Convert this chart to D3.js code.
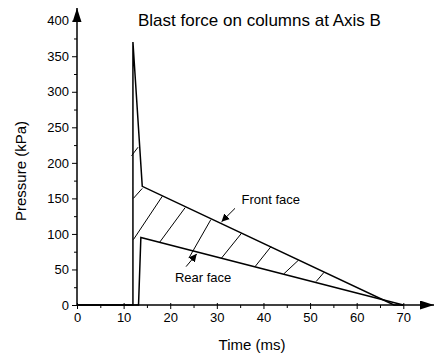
<!DOCTYPE html>
<html lang="en">
	<head>
		<meta charset="UTF-8">
		<title>Blast force</title>
		<script type="text/javascript" src="https://cdn.jsdelivr.net/npm/d3@7"></script>
		<style type="text/css">
		body { margin:0; background:#fff; }
		text { font-family: "Liberation Sans", Arial, sans-serif; fill:#000; }
		.axis path { stroke:#000; stroke-width:1.3px; }
		.axis line { stroke:#000; stroke-width:1px; }
		.axis text { font-size:13px; font-family: "Liberation Sans", Arial, sans-serif; }
		.face { fill:none; stroke:#000; stroke-width:1.5px; stroke-linejoin:miter; }
		.hatch { stroke:#000; stroke-width:1px; }
		</style>
	</head>
	<body>
	<div id="chart"></div>
	<script type="text/javascript">
		// data (time ms, pressure kPa)
		var frontTime = [0, 12, 12, 14, 68, 70];
		var frontPressure = [0, 0, 370, 167, 0, 0];
		var rearTime = [0, 13.2, 13.7, 70];
		var rearPressure = [0, 0, 95, 0];

		// hatch segments between the two faces: [x1, y1, x2, y2]
		var hatches = [
			[11.7, 210, 13.1, 222],
			[12.1, 150, 14.0, 164],
			[12.1, 92, 18.3, 153],
			[17.7, 88, 23.2, 137],
			[24.0, 66, 28.7, 120],
			[31.0, 66, 35.3, 101],
			[38.2, 54, 41.6, 82],
			[44.4, 44, 47.5, 63],
			[51.3, 33, 53.0, 46]
		];

		var xTicks = [0, 10, 20, 30, 40, 50, 60, 70];
		var xMinor = [5, 15, 25, 35, 45, 55, 65];
		var yTicks = [0, 50, 100, 150, 200, 250, 300, 350, 400];
		var yMinor = [25, 75, 125, 175, 225, 275, 325, 375];

		// labels: [text, x, y] in data units; arrows: [x1, y1, x2, y2]
		var notes = [["Front face", 35.3, 142], ["Rear face", 21.0, 32]];
		var arrows = [[33.9, 136, 31.0, 117], [23.4, 54, 25.7, 72]];

		var width = 435, height = 360;
		var padL = 77, padR = 403.3, padB = 305, padT = 20.7;

		var x = d3.scaleLinear().domain([0, 70]).range([padL, padR]);
		var y = d3.scaleLinear().domain([0, 400]).range([padB, padT]);

		var svg = d3.select("#chart").append("svg")
			.attr("width", width).attr("height", height);

		var defs = svg.append("defs");
		defs.append("marker")
			.attr("id", "head")
			.attr("viewBox", "0 0 10 10")
			.attr("refX", 10).attr("refY", 5)
			.attr("markerWidth", 8).attr("markerHeight", 8)
			.attr("markerUnits", "userSpaceOnUse")
			.attr("orient", "auto")
			.append("path").attr("d", "M0,0L10,5L0,10z").attr("fill", "#000");
		defs.append("marker")
			.attr("id", "big")
			.attr("viewBox", "0 0 10 10")
			.attr("refX", 10).attr("refY", 5)
			.attr("markerWidth", 14).attr("markerHeight", 9)
			.attr("markerUnits", "userSpaceOnUse")
			.attr("orient", "auto")
			.attr("preserveAspectRatio", "none")
			.append("path").attr("d", "M0,0L10,5L0,10z").attr("fill", "#000");

		// minor ticks
		svg.append("g")
			.attr("class", "axis")
			.attr("transform", "translate(0," + padB + ")")
			.call(d3.axisBottom(x).tickValues(xMinor).tickSize(3).tickFormat(""))
			.select(".domain").remove();
		svg.append("g")
			.attr("class", "axis")
			.attr("transform", "translate(" + padL + ",0)")
			.call(d3.axisLeft(y).tickValues(yMinor).tickSize(3).tickFormat(""))
			.select(".domain").remove();

		// major ticks
		var gx = svg.append("g")
			.attr("class", "axis")
			.attr("transform", "translate(0," + padB + ")")
			.call(d3.axisBottom(x).tickValues(xTicks).tickSize(4).tickPadding(4));
		gx.select(".domain").remove();
		gx.selectAll(".tick line").attr("y1", -2);

		var gy = svg.append("g")
			.attr("class", "axis")
			.attr("transform", "translate(" + padL + ",0)")
			.call(d3.axisLeft(y).tickValues(yTicks).tickSize(5).tickPadding(3));
		gy.select(".domain").remove();

		// axis lines with arrows
		svg.append("line")
			.attr("x1", padL).attr("y1", padB).attr("x2", 434).attr("y2", padB)
			.attr("stroke", "#000").attr("stroke-width", 1.5)
			.attr("marker-end", "url(#big)");
		svg.append("line")
			.attr("x1", padL).attr("y1", padB).attr("x2", padL).attr("y2", 8)
			.attr("stroke", "#000").attr("stroke-width", 1.5)
			.attr("marker-end", "url(#big)");

		// faces
		var line = d3.line()
			.x(function(d){ return x(d[0]); })
			.y(function(d){ return y(d[1]); });

		svg.append("path")
			.attr("class", "face")
			.attr("d", line(d3.zip(frontTime, frontPressure)));
		svg.append("path")
			.attr("class", "face")
			.attr("d", line(d3.zip(rearTime, rearPressure)));

		svg.selectAll(".hatch")
			.data(hatches)
			.enter().append("line")
			.attr("class", "hatch")
			.attr("x1", function(d){ return x(d[0]); })
			.attr("y1", function(d){ return y(d[1]); })
			.attr("x2", function(d){ return x(d[2]); })
			.attr("y2", function(d){ return y(d[3]); });

		// annotations
		svg.selectAll(".arrow")
			.data(arrows)
			.enter().append("line")
			.attr("class", "arrow")
			.attr("x1", function(d){ return x(d[0]); })
			.attr("y1", function(d){ return y(d[1]); })
			.attr("x2", function(d){ return x(d[2]); })
			.attr("y2", function(d){ return y(d[3]); })
			.attr("stroke", "#000").attr("stroke-width", 1)
			.attr("marker-end", "url(#head)");

		svg.selectAll(".note")
			.data(notes)
			.enter().append("text")
			.attr("class", "note")
			.attr("x", function(d){ return x(d[1]); })
			.attr("y", function(d){ return y(d[2]); })
			.attr("font-size", "13px")
			.text(function(d){ return d[0]; });

		// titles
		svg.append("text")
			.attr("x", 138).attr("y", 26)
			.attr("font-size", "17px")
			.text("Blast force on columns at Axis B");
		svg.append("text")
			.attr("x", 252).attr("y", 350)
			.attr("text-anchor", "middle")
			.attr("font-size", "15px")
			.text("Time (ms)");
		svg.append("text")
			.attr("transform", "translate(26,171) rotate(-90)")
			.attr("text-anchor", "middle")
			.attr("font-size", "15px")
			.text("Pressure (kPa)");
	</script>
	</body>
</html>
